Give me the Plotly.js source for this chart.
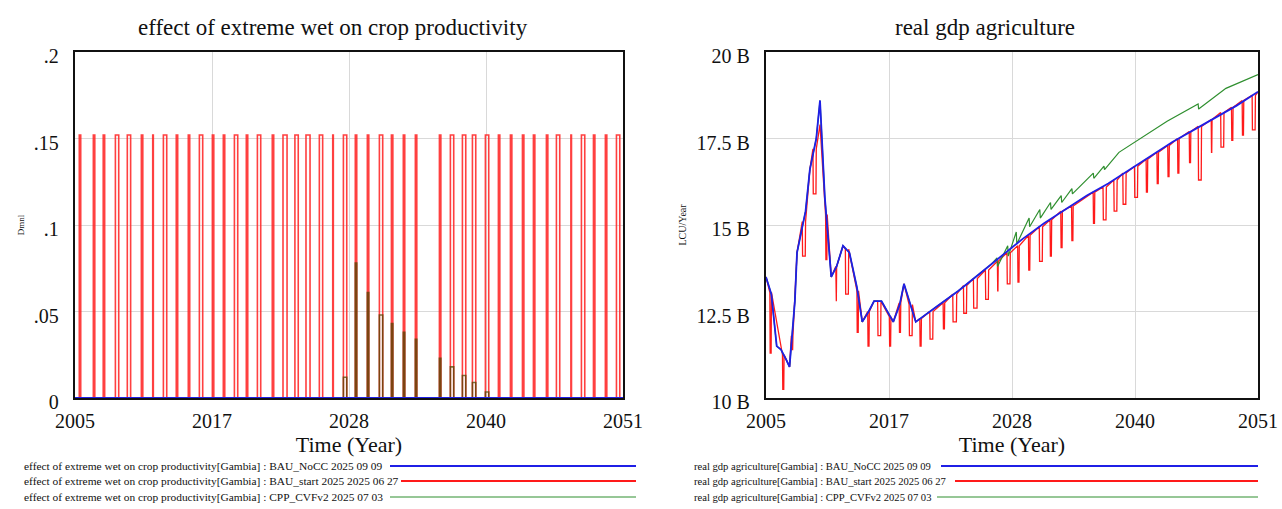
<!DOCTYPE html>
<html><head><meta charset="utf-8">
<script src="https://cdn.plot.ly/plotly-3.0.1.min.js"></script>
<style>html,body{margin:0;padding:0;background:#fff}#chart{width:1282px;height:509px}</style>
</head><body><div id="chart"></div>
<script>
// ---------- shared axis data ----------
const xTickVals = [2005, 2016.5, 2028, 2039.5, 2051];
const xTickText = ['2005', '2017', '2028', '2040', '2051'];
const leftYTickVals = [0, 0.05, 0.1, 0.15, 0.2];
const leftYTickText = ['0', '.05', '.1', '.15', '.2'];
const rightYTickVals = [10, 12.5, 15, 17.5, 20];
const rightYTickText = ['10 B', '12.5 B', '15 B', '17.5 B', '20 B'];

// ---------- extreme-wet event years (centre of each pulse) ----------
const wetYears = [2005.42, 2006.60, 2007.43, 2008.53, 2009.53, 2010.63, 2011.55, 2012.56, 2013.56, 2014.57,
  2015.58, 2016.59, 2017.51, 2018.52, 2019.44, 2020.45, 2021.62, 2022.63, 2023.60, 2024.56,
  2025.65, 2026.66, 2027.67, 2028.59, 2029.60, 2030.69, 2031.62, 2032.62, 2033.63, 2035.65,
  2036.65, 2037.66, 2038.50, 2039.59, 2040.60, 2041.61, 2042.62, 2043.54, 2044.63, 2045.55,
  2046.65, 2047.65, 2048.58, 2049.58, 2050.59];
const wetWidths = [0.12, 0.12, 0.12, 0.28, 0.28, 0.12, 0.05, 0.28, 0.12, 0.12,
  0.28, 0.12, 0.12, 0.28, 0.12, 0.28, 0.12, 0.34, 0.28, 0.34,
  0.28, 0.05, 0.28, 0.12, 0.12, 0.28, 0.12, 0.12, 0.12, 0.12,
  0.28, 0.28, 0.28, 0.28, 0.12, 0.12, 0.12, 0.12, 0.12, 0.28,
  0.05, 0.28, 0.12, 0.12, 0.28];

// left chart: effect of extreme wet (Dmnl)
const bauStartEffectPeak = 0.152;               // BAU_start pulse height
const noCCEffectYears = [2005, 2051];
const noCCEffectValues = [0, 0];                 // BAU_NoCC stays at 0
const cppEffectYears = [2027.67, 2028.59, 2029.60, 2030.69, 2031.62, 2032.62, 2033.63,
  2035.65, 2036.65, 2037.66, 2038.50, 2039.59];
const cppEffectValues = [0.012, 0.078, 0.061, 0.048, 0.043, 0.038, 0.034,
  0.023, 0.018, 0.013, 0.009, 0.0035];

// right chart: real gdp agriculture (billions LCU/Year)
const noCCYears = [2005.0, 2005.5, 2006.0, 2006.4, 2006.9, 2007.2, 2007.7, 2007.9, 2008.7, 2009.1,
  2009.7, 2010.05, 2010.5, 2011.1, 2011.6, 2012.2, 2012.8, 2013.5, 2014.0, 2014.6,
  2015.1, 2015.8, 2016.9, 2017.5, 2017.9, 2018.3, 2019.0, 2021, 2023, 2025,
  2027, 2029, 2031, 2033, 2035, 2037, 2039, 2041, 2043, 2045, 2047, 2049, 2051];
const noCCGdp = [13.5, 13.0, 11.5, 11.4, 11.1, 10.9, 12.8, 14.2, 15.4, 16.6,
  17.5, 18.6, 15.8, 13.5, 13.8, 14.4, 14.2, 13.2, 12.2, 12.5,
  12.8, 12.8, 12.2, 12.7, 13.3, 12.9, 12.2, 12.65, 13.1, 13.6,
  14.1, 14.6, 15.05, 15.45, 15.85, 16.2, 16.6, 17.0, 17.4, 17.75, 18.1, 18.45, 18.85];

// BAU_start: level just before each wet-year dip and bottom of the dip
const bauStartDipBase = [13.05, 11.25, 11.8, 15.1, 17.2, 15.3, 13.8, 14.3, 13.1, 12.5,
  12.8, 12.35, 12.75, 12.7, 12.3, 12.5, 12.75, 13.0, 13.25, 13.45,
  13.7, 13.95, 14.2, 14.4, 14.7, 14.95, 15.15, 15.4, 15.55, 15.95,
  16.1, 16.3, 16.5, 16.7, 16.9, 17.1, 17.3, 17.5, 17.7, 17.85,
  18.05, 18.25, 18.4, 18.6, 18.75];
const bauStartDipLow = [11.3, 10.25, 11.4, 14.1, 15.9, 14.0, 12.8, 13.0, 11.9, 11.5,
  11.8, 11.5, 11.9, 11.8, 11.5, 11.7, 12.0, 12.2, 12.45, 12.6,
  12.85, 13.1, 13.3, 13.35, 13.7, 13.95, 14.1, 14.35, 14.55, 15.05,
  15.15, 15.4, 15.6, 15.8, 15.95, 16.2, 16.4, 16.5, 16.8, 16.3,
  17.1, 17.25, 17.45, 17.6, 17.75];
// BAU_start points between dips
const bauStartYears = [2005.0, 2007.2, 2007.9, 2009.1, 2010.05, 2011.1, 2012.2, 2014.0, 2015.1, 2016.9, 2017.9, 2019.0, 2051];
const bauStartGdp = [13.5, 10.9, 14.2, 16.6, 17.9, 13.5, 14.4, 12.2, 12.8, 12.2, 13.3, 12.2, 18.85];

const cppYears = [2005.0, 2005.5, 2006.0, 2006.4, 2006.9, 2007.2, 2007.7, 2007.9, 2008.7, 2009.1,
  2009.7, 2010.05, 2010.5, 2011.1, 2011.6, 2012.2, 2012.8, 2013.5, 2014.0, 2014.6,
  2015.1, 2015.8, 2016.9, 2017.5, 2017.9, 2018.3, 2019.0, 2021, 2023, 2025,
  2026.0, 2026.6, 2026.65, 2027.6, 2027.65, 2028.4, 2028.45, 2029.6, 2029.65, 2030.6,
  2030.65, 2031.6, 2031.65, 2032.6, 2032.65, 2033.6, 2033.65, 2035.6, 2035.65, 2036.6,
  2036.65, 2038, 2040, 2042.5, 2045.4, 2045.45, 2048, 2051];
const cppGdp = [13.5, 13.0, 11.5, 11.4, 11.1, 10.9, 12.8, 14.2, 15.4, 16.6,
  17.5, 18.6, 15.8, 13.5, 13.8, 14.4, 14.2, 13.2, 12.2, 12.5,
  12.8, 12.8, 12.2, 12.7, 13.3, 12.9, 12.2, 12.65, 13.1, 13.6,
  13.85, 14.05, 13.8, 14.4, 14.1, 14.8, 14.45, 15.2, 14.95, 15.45,
  15.2, 15.65, 15.45, 15.85, 15.65, 16.05, 15.9, 16.5, 16.35, 16.7,
  16.6, 17.1, 17.5, 18.0, 18.5, 18.35, 18.95, 19.35];

// legend texts
const leftLegend = [
  'effect of extreme wet on crop productivity[Gambia] : BAU_NoCC 2025 09 09',
  'effect of extreme wet on crop productivity[Gambia] : BAU_start 2025 2025 06 27',
  'effect of extreme wet on crop productivity[Gambia] : CPP_CVFv2 2025 07 03'];
const rightLegend = [
  'real gdp agriculture[Gambia] : BAU_NoCC 2025 09 09',
  'real gdp agriculture[Gambia] : BAU_start 2025 2025 06 27',
  'real gdp agriculture[Gambia] : CPP_CVFv2 2025 07 03'];

// ---------- build traces ----------
function pulses(years, heights) {
  const xs = [2005], ys = [0];
  years.forEach((t, i) => {
    const k = wetYears.indexOf(t);
    const w = k >= 0 ? wetWidths[k] : 0.12;
    const h = Array.isArray(heights) ? heights[i] : heights;
    xs.push(t - w / 2, t - w / 2, t + w / 2, t + w / 2);
    ys.push(0, h, h, 0);
  });
  xs.push(2051); ys.push(0);
  return {xs, ys};
}
const redL = pulses(wetYears, bauStartEffectPeak);
const greenL = pulses(cppEffectYears, cppEffectValues);

const redPts = [];
bauStartYears.forEach((t, i) => redPts.push([t, bauStartGdp[i]]));
wetYears.forEach((t, i) => {
  const w = wetWidths[i];
  redPts.push([t - w / 2, bauStartDipBase[i]]);
  redPts.push([t - w / 2 + 0.03, bauStartDipLow[i]]);
  redPts.push([t + w / 2, bauStartDipLow[i]]);
  redPts.push([t + w / 2 + 0.03, bauStartDipBase[i]]);
});
redPts.sort((a, b) => a[0] - b[0]);

const BLUE = '#1f1fe6', RED = '#ff1a1a', GREEN = '#2f8f2f';
const FONT = '"Liberation Serif", "Times New Roman", serif';

const traces = [
  {x: redL.xs, y: redL.ys, xaxis: 'x', yaxis: 'y', mode: 'lines', line: {color: 'rgba(255,30,30,0.85)', width: 1.6}, hoverinfo: 'skip'},
  {x: greenL.xs, y: greenL.ys, xaxis: 'x', yaxis: 'y', mode: 'lines', line: {color: 'rgba(80,70,0,0.75)', width: 1.6}, hoverinfo: 'skip'},
  {x: noCCEffectYears, y: noCCEffectValues, xaxis: 'x', yaxis: 'y', mode: 'lines', line: {color: BLUE, width: 2}, cliponaxis: false, hoverinfo: 'skip'},
  {x: redPts.map(p => p[0]), y: redPts.map(p => p[1]), xaxis: 'x2', yaxis: 'y2', mode: 'lines', line: {color: RED, width: 1.3}, hoverinfo: 'skip'},
  {x: cppYears, y: cppGdp, xaxis: 'x2', yaxis: 'y2', mode: 'lines', line: {color: GREEN, width: 1.2}, hoverinfo: 'skip'},
  {x: noCCYears, y: noCCGdp, xaxis: 'x2', yaxis: 'y2', mode: 'lines', line: {color: BLUE, width: 1.8}, hoverinfo: 'skip'}
];

const W = 1282, H = 509;
const px = x => x / W, py = y => 1 - y / H;
const yDom = [py(398), py(52)];

function xAxis(dom, anchor) {
  return {domain: dom, anchor: anchor, range: [2005, 2051], tickvals: xTickVals, ticktext: xTickText,
    showgrid: true, gridcolor: '#d9d9d9', gridwidth: 1, zeroline: false,
    showline: true, linecolor: '#111', linewidth: 2.2, mirror: true, ticks: '',
    tickfont: {family: FONT, size: 20, color: '#111'}, ticklabelstandoff: 4,
    title: {text: 'Time (Year)', font: {family: FONT, size: 22, color: '#111'}, standoff: 0}};
}
function yAxis(anchor, range, vals, text, title, tsize) {
  return {domain: yDom, anchor: anchor, range: range, tickvals: vals, ticktext: text,
    showgrid: true, gridcolor: '#d9d9d9', gridwidth: 1, zeroline: false,
    showline: true, linecolor: '#111', linewidth: 2.2, mirror: true, ticks: '',
    tickfont: {family: FONT, size: 20, color: '#111'}, ticklabelstandoff: 10, ticklabelshift: 4,
    title: {text: title, font: {family: FONT, size: tsize, color: '#111'}, standoff: 8}};
}

const annotations = [
  {text: 'effect of extreme wet on crop productivity', x: px(333), y: py(28), xref: 'paper', yref: 'paper',
   showarrow: false, xanchor: 'center', yanchor: 'middle', font: {family: FONT, size: 23, color: '#111'}},
  {text: 'real gdp agriculture', x: px(985), y: py(28), xref: 'paper', yref: 'paper',
   showarrow: false, xanchor: 'center', yanchor: 'middle', font: {family: FONT, size: 23, color: '#111'}}
];
const shapes = [];
const legendRowsY = [466, 481, 497];
const legendColors = [BLUE, RED, GREEN];
const legendWidths = [2, 2, 1];
const leftLineStart = [390, 401, 390];
const rightLineStart = [941, 955, 937];
leftLegend.forEach((t, i) => {
  annotations.push({text: t, x: px(22), y: py(legendRowsY[i]), xref: 'paper', yref: 'paper', showarrow: false,
    xanchor: 'left', yanchor: 'middle', font: {family: FONT, size: 11.4, color: '#111'}});
  shapes.push({type: 'line', xref: 'paper', yref: 'paper', x0: px(leftLineStart[i]), x1: px(636),
    y0: py(legendRowsY[i]), y1: py(legendRowsY[i]), line: {color: legendColors[i], width: legendWidths[i]}});
});
rightLegend.forEach((t, i) => {
  annotations.push({text: t, x: px(692), y: py(legendRowsY[i]), xref: 'paper', yref: 'paper', showarrow: false,
    xanchor: 'left', yanchor: 'middle', font: {family: FONT, size: 10.6, color: '#111'}});
  shapes.push({type: 'line', xref: 'paper', yref: 'paper', x0: px(rightLineStart[i]), x1: px(1258),
    y0: py(legendRowsY[i]), y1: py(legendRowsY[i]), line: {color: legendColors[i], width: legendWidths[i]}});
});

const layout = {
  width: W, height: H, margin: {l: 0, r: 0, t: 0, b: 0}, showlegend: false,
  paper_bgcolor: '#fff', plot_bgcolor: '#fff',
  xaxis: xAxis([px(75), px(623)], 'y'),
  yaxis: yAxis('x', [0, 0.2], leftYTickVals, leftYTickText, 'Dmnl', 9),
  xaxis2: xAxis([px(766), px(1258)], 'y2'),
  yaxis2: yAxis('x2', [10, 20], rightYTickVals, rightYTickText, 'LCU/Year', 10),
  annotations: annotations, shapes: shapes
};
Plotly.newPlot('chart', traces, layout, {staticPlot: true, displayModeBar: false});
</script>
</body></html>
